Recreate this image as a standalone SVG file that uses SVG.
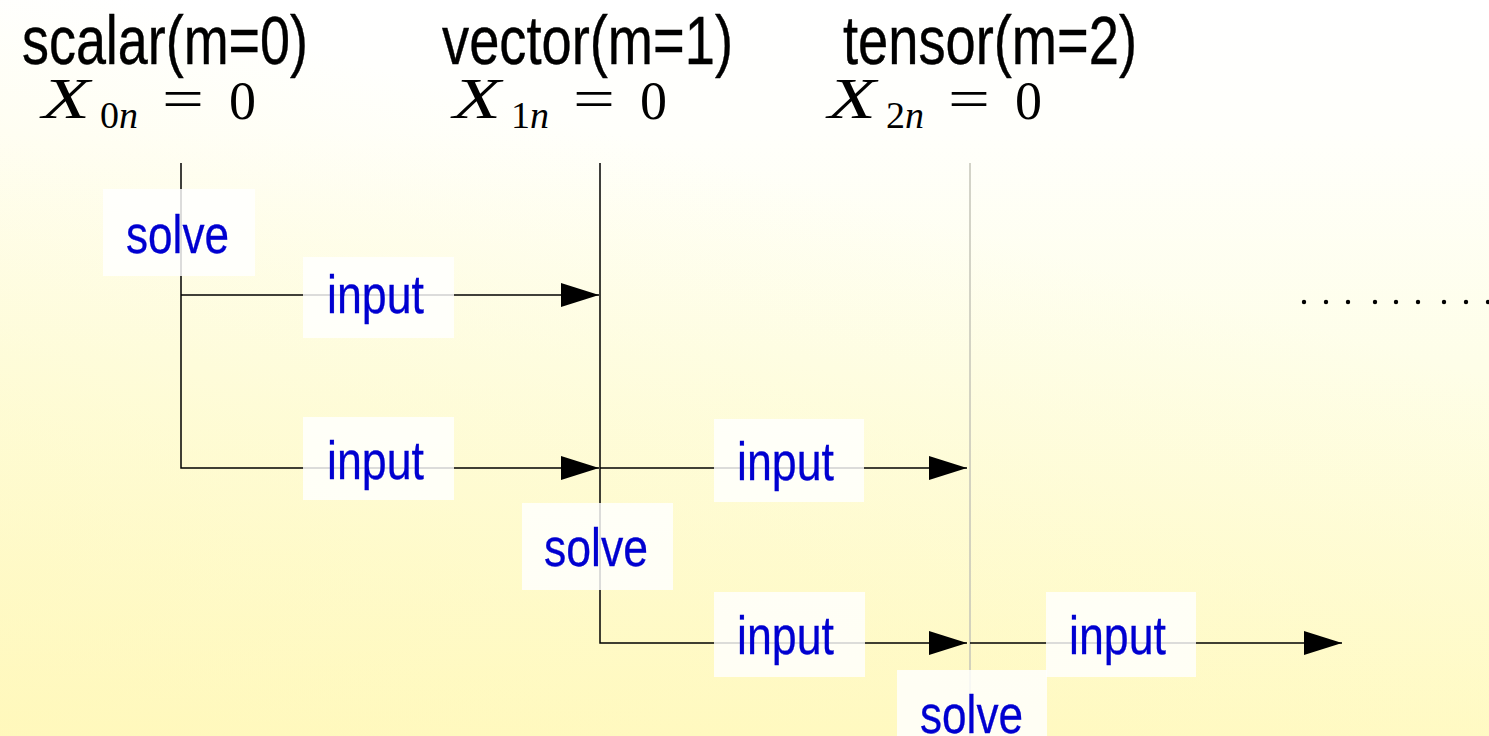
<svg xmlns="http://www.w3.org/2000/svg" width="1489" height="736" viewBox="0 0 1489 736">
  <defs>
    <linearGradient id="bg" x1="0" y1="0" x2="0" y2="1">
      <stop offset="0" stop-color="#ffffff"/>
      <stop offset="0.18" stop-color="#fffffb"/>
      <stop offset="0.5" stop-color="#fefee8"/>
      <stop offset="1" stop-color="#fffbca"/>
    </linearGradient>
    <linearGradient id="bgside" x1="0" y1="1" x2="0.45" y2="0.2">
      <stop offset="0" stop-color="#fff6b0" stop-opacity="0.55"/>
      <stop offset="1" stop-color="#fff6b0" stop-opacity="0"/>
    </linearGradient>
    <marker id="arr" markerUnits="userSpaceOnUse" markerWidth="40" markerHeight="26" refX="38" refY="12" orient="auto">
      <path d="M0,0 L38,12 L0,24 Z" fill="#000"/>
    </marker>
    <style>
      .hdr { font-family: "Liberation Sans", Arial, sans-serif; font-size: 68px; fill: #000; stroke: #000; stroke-width: 0.4; }
      .math { font-family: "Liberation Serif", "Times New Roman", serif; fill: #000; }
      .it { font-style: italic; }
      .lbl { font-family: "Liberation Sans", Arial, sans-serif; font-size: 54px; fill: #0000d0; stroke: #0000d0; stroke-width: 0.3; }
      .box { fill: #ffffff; fill-opacity: 0.82; }
      .wire { fill: none; stroke: #000; stroke-width: 1.5; }
      .faint { fill: none; stroke: #c4c4b8; stroke-width: 1.5; }
      .dot { fill: #000; }
    </style>
  </defs>

  <rect x="0" y="0" width="1489" height="736" fill="url(#bg)"/>
  <rect x="0" y="0" width="1489" height="736" fill="url(#bgside)"/>

  <g id="connectors">
    <path class="wire" d="M181,163 V468 H599" marker-end="url(#arr)"/>
    <path class="wire" d="M181,295 H599" marker-end="url(#arr)"/>
    <path class="wire" d="M600,163 V643 H967" marker-end="url(#arr)"/>
    <path class="wire" d="M600,468 H967" marker-end="url(#arr)"/>
    <path class="faint" d="M970,163 V736"/>
    <path class="wire" d="M970,643 H1342" marker-end="url(#arr)"/>
  </g>

  <g id="scalar">
    <text class="hdr" x="22" y="64" textLength="286" lengthAdjust="spacingAndGlyphs">scalar(m=0)</text>
    <g class="math">
      <text class="it" x="42" y="118" font-size="56" textLength="48" lengthAdjust="spacingAndGlyphs">X</text>
      <text x="100" y="128" font-size="38">0<tspan class="it">n</tspan></text>
      <text x="162" y="118" font-size="58" textLength="42" lengthAdjust="spacingAndGlyphs">=</text>
      <text x="229" y="119" font-size="54">0</text>
    </g>
  </g>

  <g id="vector">
    <text class="hdr" x="442" y="64" textLength="291" lengthAdjust="spacingAndGlyphs">vector(m=1)</text>
    <g class="math" transform="translate(411,0)">
      <text class="it" x="42" y="118" font-size="56" textLength="48" lengthAdjust="spacingAndGlyphs">X</text>
      <text x="100" y="128" font-size="38">1<tspan class="it">n</tspan></text>
      <text x="162" y="118" font-size="58" textLength="42" lengthAdjust="spacingAndGlyphs">=</text>
      <text x="229" y="119" font-size="54">0</text>
    </g>
  </g>

  <g id="tensor">
    <text class="hdr" x="843" y="64" textLength="294" lengthAdjust="spacingAndGlyphs">tensor(m=2)</text>
    <g class="math" transform="translate(786,0)">
      <text class="it" x="42" y="118" font-size="56" textLength="48" lengthAdjust="spacingAndGlyphs">X</text>
      <text x="100" y="128" font-size="38">2<tspan class="it">n</tspan></text>
      <text x="162" y="118" font-size="58" textLength="42" lengthAdjust="spacingAndGlyphs">=</text>
      <text x="229" y="119" font-size="54">0</text>
    </g>
  </g>

  <g id="solve1">
    <rect class="box" x="103" y="189" width="152" height="87"/>
    <text class="lbl" x="126" y="253" textLength="103" lengthAdjust="spacingAndGlyphs">solve</text>
  </g>
  <g id="input1">
    <rect class="box" x="303" y="257" width="151" height="81"/>
    <text class="lbl" x="327" y="313" textLength="97" lengthAdjust="spacingAndGlyphs">input</text>
  </g>
  <g id="input2">
    <rect class="box" x="303" y="417" width="151" height="83"/>
    <text class="lbl" x="327" y="479" textLength="97" lengthAdjust="spacingAndGlyphs">input</text>
  </g>
  <g id="input3">
    <rect class="box" x="714" y="419" width="150" height="83"/>
    <text class="lbl" x="737" y="480" textLength="97" lengthAdjust="spacingAndGlyphs">input</text>
  </g>
  <g id="solve2">
    <rect class="box" x="522" y="503" width="151" height="87"/>
    <text class="lbl" x="544" y="566" textLength="104" lengthAdjust="spacingAndGlyphs">solve</text>
  </g>
  <g id="input4">
    <rect class="box" x="714" y="592" width="151" height="85"/>
    <text class="lbl" x="737" y="654" textLength="97" lengthAdjust="spacingAndGlyphs">input</text>
  </g>
  <g id="input5">
    <rect class="box" x="1046" y="592" width="150" height="85"/>
    <text class="lbl" x="1069" y="654" textLength="97" lengthAdjust="spacingAndGlyphs">input</text>
  </g>
  <g id="solve3">
    <rect class="box" x="897" y="670" width="150" height="70"/>
    <text class="lbl" x="920" y="733" textLength="103" lengthAdjust="spacingAndGlyphs">solve</text>
  </g>

  <g id="ellipsis">
    <circle class="dot" cx="1304" cy="302" r="2.2"/>
    <circle class="dot" cx="1326" cy="302" r="2.2"/>
    <circle class="dot" cx="1348" cy="302" r="2.2"/>
    <circle class="dot" cx="1375" cy="302" r="2.2"/>
    <circle class="dot" cx="1396" cy="302" r="2.2"/>
    <circle class="dot" cx="1418" cy="302" r="2.2"/>
    <circle class="dot" cx="1444" cy="302" r="2.2"/>
    <circle class="dot" cx="1466" cy="302" r="2.2"/>
    <circle class="dot" cx="1488" cy="302" r="2.2"/>
  </g>
</svg>
